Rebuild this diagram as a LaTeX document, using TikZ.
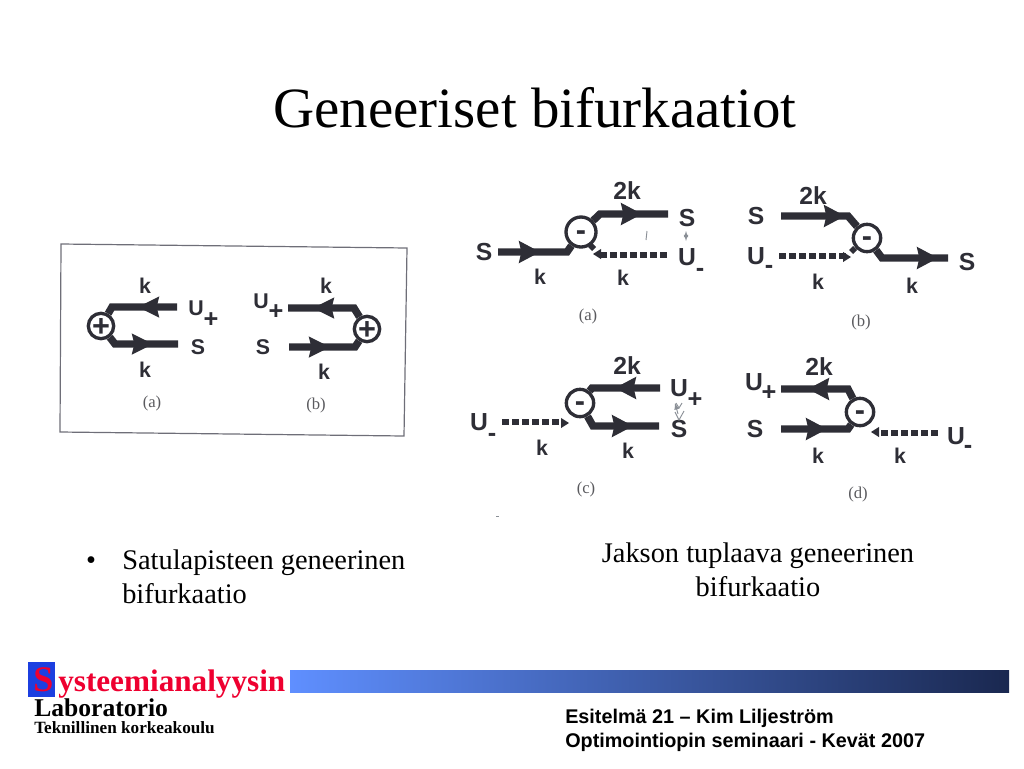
\documentclass[tikz,border=0pt]{standalone}
\usepackage{fontspec}
\setmainfont{Liberation Serif}
\newfontfamily\arialf{Liberation Sans}
\definecolor{ink}{HTML}{2E2E36}
\definecolor{capt}{HTML}{5A5A5E}
\definecolor{framec}{HTML}{6E6E78}
\definecolor{marksc}{HTML}{8A8F96}
\definecolor{barL}{HTML}{5F8FFF}
\definecolor{barM}{HTML}{3F5FAF}
\definecolor{barR}{HTML}{1A2850}
\definecolor{redt}{HTML}{EE0030}
\definecolor{blueb}{HTML}{1C3FE0}
\tikzset{
  flow/.style={draw=ink,line width=5.6pt,line join=miter},
  dotted flow/.style={draw=ink,line width=5pt,dash pattern=on 5.2pt off 2.3pt},
  junction/.style={circle,draw=ink,line width=2.5pt,fill=white,minimum size=19pt,inner sep=0pt,text=ink,font=\arialf\bfseries\fontsize{23}{23}\selectfont},
  lab/.style={inner sep=0pt,text=ink,font=\arialf\bfseries\fontsize{16}{18}\selectfont},
  labb/.style={inner sep=0pt,text=ink,font=\arialf\bfseries\fontsize{18.5}{20}\selectfont},
  subs/.style={inner sep=0pt,text=ink,font=\arialf\bfseries\fontsize{19}{20}\selectfont},
  capn/.style={inner sep=0pt,text=capt,font=\fontsize{12.5}{14}\selectfont},
  body/.style={inner sep=0pt,text=black,font=\fontsize{21.3}{25}\selectfont},
}
\newcommand{\headr}[4]{\fill[ink,shift={(#1,#2)},rotate=#3] (0pt,0pt) -- (-16pt,#4pt) -- (-14pt,0pt) -- (-16pt,-#4pt) -- cycle;}
\newcommand{\tinyh}[3]{\fill[ink,shift={(#1,#2)},rotate=#3] (0pt,0pt) -- (-6pt,3.8pt) -- (-6pt,-3.8pt) -- cycle;}
\newcommand{\jplus}{\raisebox{-8pt}[0pt][0pt]{+}}
\newcommand{\jminus}{\raisebox{-6.2pt}[0pt][0pt]{-}}
\begin{document}
\begin{tikzpicture}[x=0.75pt,y=-0.75pt]
\useasboundingbox (0,0) rectangle (1024,768);
\node[inner sep=0pt,font=\fontsize{42.7}{46}\selectfont] (title) at (535,108) {Geneeriset bifurkaatiot};

% left panel
\draw[framec,line width=0.9pt] (61,244) -- (407,248) -- (404,436) -- (60,432) -- cycle;
% (a)
\coordinate (a1) at (177,307); \coordinate (a2) at (112,307); \coordinate (a3) at (178,344); \coordinate (a4) at (115,344);
\node[junction] (pa) at (101,326) {\jplus};
\draw[flow] (a1) -- (a2) -- (pa);
\draw[flow] (a3) -- (a4) -- (pa);
\headr{138}{307}{180}{8}
\headr{153}{344}{0}{8}
\node[lab] (la1) at (145,286) {k};
\node[lab] (la2) at (196,308) {U};
\node[subs] (la3) at (211,320) {+};
\node[lab] (la4) at (198,347) {S};
\node[lab] (la5) at (145,370) {k};
\node[capn] (la6) at (152,403) {(a)};
% (b)
\coordinate (b1) at (288,308); \coordinate (b2) at (354,308); \coordinate (b3) at (289,347); \coordinate (b4) at (355,347);
\node[junction] (pb) at (367,329) {\jplus};
\draw[flow] (b1) -- (b2) -- (pb);
\draw[flow] (b3) -- (b4) -- (pb);
\headr{313}{308}{180}{8}
\headr{330}{347}{0}{8}
\node[lab] (lb1) at (326,286) {k};
\node[lab] (lb2) at (261,301) {U};
\node[subs] (lb3) at (276,312) {+};
\node[lab] (lb4) at (263,347) {S};
\node[lab] (lb5) at (324,372) {k};
\node[capn] (lb6) at (316,405) {(b)};

% right (a)
\coordinate (c1) at (600,214); \coordinate (c2) at (668,214); \coordinate (c3) at (498,252); \coordinate (c4) at (567,252); \coordinate (c5) at (667,255); \coordinate (c6) at (598,255);
\node[junction,minimum size=22.5pt] (pc) at (581,232) {\jminus};
\draw[flow] (pc) -- (c1) -- (c2);
\draw[flow] (c3) -- (c4) -- (pc);
\draw[dotted flow] (c5) -- (c6);
\headr{642}{214}{0}{8.5}
\headr{540}{252}{0}{8.5}
\tinyh{593}{254}{180}
\fill[ink] (592,243) -- (596,247) -- (592,251) -- (588,247) -- cycle;
\node[labb] (lc1) at (627,191) {2k};
\node[labb] (lc2) at (687,218) {S};
\node[labb] (lc3) at (687,257) {U};
\node[subs] (lc4) at (700,272) {-};
\node[lab] (lc5) at (540,277) {k};
\node[lab] (lc6) at (623,278) {k};
\node[labb] (lc7) at (484,252) {S};
\node[capn] (lc8) at (588,316) {(a)};
\draw[marksc,line width=.6pt,<->,>=latex] (686,231) -- (686,241);
\draw[marksc,line width=.7pt] (647,231) -- (646,240);
% right (b)
\coordinate (d1) at (781,216); \coordinate (d2) at (848,216); \coordinate (d3) at (779,256); \coordinate (d4) at (846,256); \coordinate (d5) at (882,258); \coordinate (d6) at (948,258);
\node[junction,minimum size=20.5pt] (pd) at (867,238) {\jminus};
\draw[flow] (d1) -- (d2) -- (pd);
\draw[flow] (pd) -- (d5) -- (d6);
\draw[dotted flow] (d3) -- (d4);
\headr{845}{216}{0}{8.5}
\headr{938}{258}{0}{8.5}
\tinyh{851}{257}{0}
\fill[ink] (853,246) -- (857,250) -- (853,254) -- (849,250) -- cycle;
\node[labb] (ld1) at (813,196) {2k};
\node[labb] (ld2) at (756,216) {S};
\node[labb] (ld3) at (756,256) {U};
\node[subs] (ld4) at (769,269) {-};
\node[lab] (ld5) at (818,282) {k};
\node[labb] (ld6) at (967,262) {S};
\node[lab] (ld7) at (912,286) {k};
\node[capn] (ld8) at (861,322) {(b)};
% right (c)
\coordinate (e1) at (660,388); \coordinate (e2) at (592,388); \coordinate (e3) at (659,426); \coordinate (e4) at (593,426); \coordinate (e5) at (502,422); \coordinate (e6) at (563,422);
\node[junction,minimum size=20.5pt] (pe) at (580,403) {\jminus};
\draw[flow] (e1) -- (e2) -- (pe);
\draw[flow] (pe) -- (e4) -- (e3);
\draw[dotted flow] (e5) -- (e6);
\headr{615}{388}{180}{8.5}
\headr{633}{426}{0}{8.5}
\tinyh{569}{423}{0}
\node[labb] (le1) at (627,366) {2k};
\node[labb] (le2) at (679,388) {U};
\node[subs] (le3) at (695,400) {+};
\node[labb] (le4) at (679,429) {S};
\node[labb] (le5) at (479,422) {U};
\node[subs] (le6) at (492,437) {-};
\node[lab] (le7) at (542,448) {k};
\node[lab] (le8) at (628,451) {k};
\node[capn] (le9) at (586,489) {(c)};
\draw[marksc,line width=.7pt] (676,403) -- (679,408) -- (682,403);
\draw[marksc,line width=.7pt,->,>=latex] (678,414) -- (675,403);
\draw[marksc,line width=.7pt] (675,412) -- (679,420) -- (684,411);
\fill[marksc] (496,516) rectangle (499,517);
% right (d)
\coordinate (f1) at (781,389); \coordinate (f2) at (848,389); \coordinate (f3) at (781,429); \coordinate (f4) at (848,429); \coordinate (f5) at (938,433); \coordinate (f6) at (878,433);
\node[junction,minimum size=20.5pt] (pf) at (860,412) {\jminus};
\draw[flow] (f1) -- (f2) -- (pf);
\draw[flow] (f3) -- (f4) -- (pf);
\draw[dotted flow] (f5) -- (f6);
\headr{808}{389}{180}{8.5}
\headr{827}{429}{0}{8.5}
\tinyh{871}{432}{180}
\node[labb] (lf1) at (819,367) {2k};
\node[labb] (lf2) at (754,382) {U};
\node[subs] (lf3) at (769,393) {+};
\node[labb] (lf4) at (755,429) {S};
\node[lab] (lf5) at (818,456) {k};
\node[labb] (lf6) at (956,436) {U};
\node[subs] (lf7) at (968,449) {-};
\node[lab] (lf8) at (900,456) {k};
\node[capn] (lf9) at (858,494) {(d)};

% body text
\node[body,anchor=base] (bull) at (91,569) {•};
\node[body,anchor=base west] (t1) at (122,569) {Satulapisteen geneerinen};
\node[body,anchor=base west] (t2) at (122,603) {bifurkaatio};
\node[body,anchor=base] (t3) at (758,562) {Jakson tuplaava geneerinen};
\node[body,anchor=base] (t4) at (758,596) {bifurkaatio};

% footer
\shade[left color=barL,middle color=barM,right color=barR,shading angle=90] (290,670) rectangle (1009,692);
\fill[blueb] (28,662) rectangle (55,697);
\node[inner sep=0pt,anchor=base west,text=redt,font=\bfseries\fontsize{27}{28}\selectfont] (sbig) at (33,691) {S};
\node[inner sep=0pt,anchor=base west,text=redt,font=\bfseries\fontsize{23.4}{25}\selectfont] (syst) at (58,691) {ysteemianalyysin};
\node[inner sep=0pt,anchor=base west,font=\bfseries\fontsize{19.2}{21}\selectfont] (labo) at (34,716) {Laboratorio};
\node[inner sep=0pt,anchor=base west,font=\bfseries\fontsize{12.9}{14}\selectfont] (tkk) at (34,733) {Teknillinen korkeakoulu};
\node[inner sep=0pt,anchor=base west,font=\arialf\bfseries\fontsize{14.85}{17}\selectfont] (es1) at (565,723) {Esitelmä 21 – Kim Liljeström};
\node[inner sep=0pt,anchor=base west,font=\arialf\bfseries\fontsize{14.85}{17}\selectfont] (es2) at (565,747) {Optimointiopin seminaari - Kevät 2007};
\end{tikzpicture}
\end{document}
